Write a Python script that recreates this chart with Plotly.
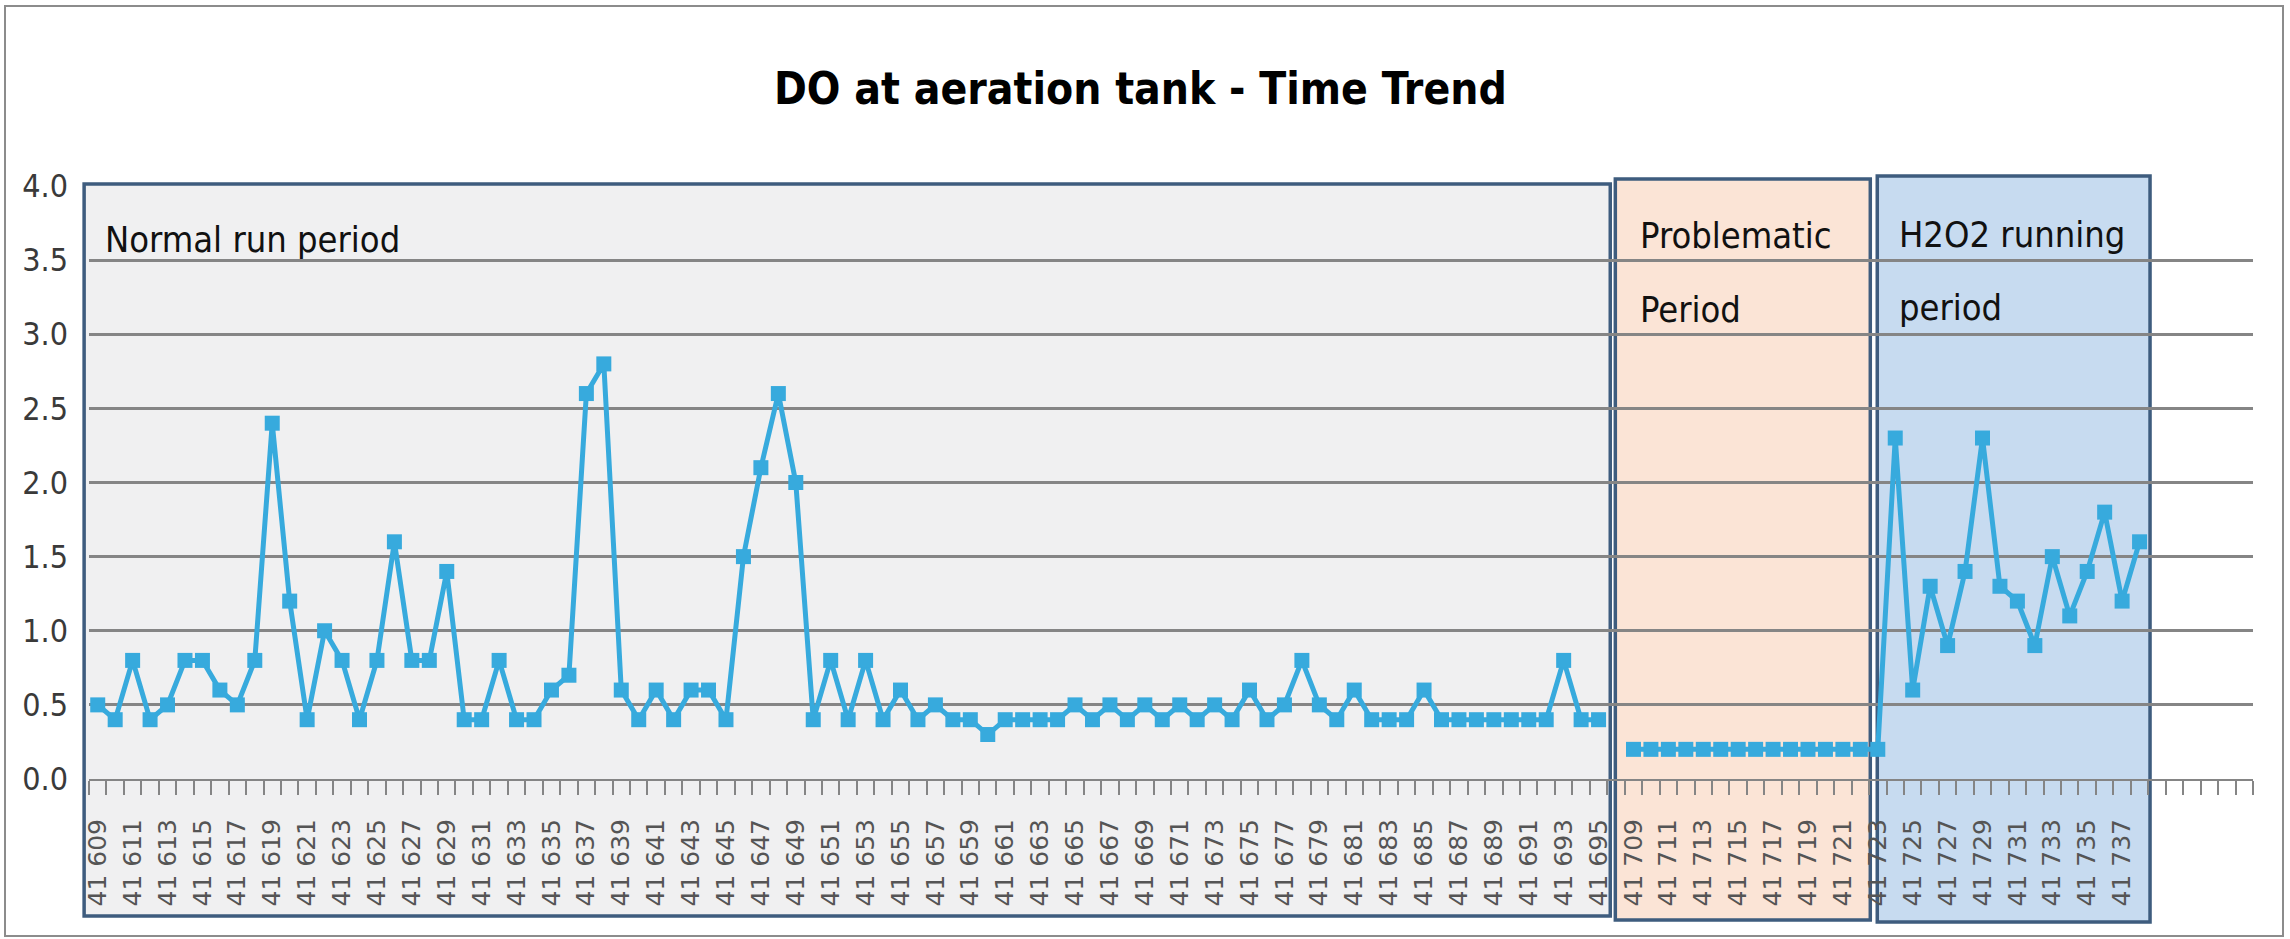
import plotly.graph_objects as go

# Day numbers (Excel serial dates) for each period
days_normal = list(range(41609, 41696))      # normal run period
days_problem = list(range(41709, 41724))     # problematic period
days_h2o2 = list(range(41724, 41739))        # H2O2 running period

# Dissolved oxygen readings (mg/L)
do_normal = [
    0.5, 0.4, 0.8, 0.4, 0.5, 0.8, 0.8, 0.6, 0.5, 0.8,
    2.4, 1.2, 0.4, 1.0, 0.8, 0.4, 0.8, 1.6, 0.8, 0.8,
    1.4, 0.4, 0.4, 0.8, 0.4, 0.4, 0.6, 0.7, 2.6, 2.8,
    0.6, 0.4, 0.6, 0.4, 0.6, 0.6, 0.4, 1.5, 2.1, 2.6,
    2.0, 0.4, 0.8, 0.4, 0.8, 0.4, 0.6, 0.4, 0.5, 0.4,
    0.4, 0.3, 0.4, 0.4, 0.4, 0.4, 0.5, 0.4, 0.5, 0.4,
    0.5, 0.4, 0.5, 0.4, 0.5, 0.4, 0.6, 0.4, 0.5, 0.8,
    0.5, 0.4, 0.6, 0.4, 0.4, 0.4, 0.6, 0.4, 0.4, 0.4,
    0.4, 0.4, 0.4, 0.4, 0.8, 0.4, 0.4,
]
do_problem = [0.2] * 15
do_h2o2 = [2.3, 0.6, 1.3, 0.9, 1.4, 2.3, 1.3, 1.2, 0.9, 1.5, 1.1, 1.4, 1.8, 1.2, 1.6]

# Category axis: one empty slot between the periods, empty slots at the end
categories = days_normal + [None] + days_problem + days_h2o2 + [None] * 6
values = do_normal + [None] + do_problem + do_h2o2

x_idx = list(range(len(values)))
X_MIN, X_MAX = -0.5, len(categories) - 0.5
Y_MIN, Y_MAX = 0.0, 4.0

tick_vals = [i for i, d in enumerate(categories) if d is not None and i % 2 == 0]
tick_text = [f"{categories[i] // 1000} {categories[i] % 1000:03d}" for i in tick_vals]

COND = "DejaVu Sans Condensed, Liberation Sans, sans-serif"
LINE_BLUE = "#37AADD"
EDGE = "#3E5C7E"
GRID = "#858585"

W, H = 2290, 939
L, R, T, B = 89, 37, 186, 160
plot_w = W - L - R
plot_h = H - T - B


def cx(c):
    return (c - X_MIN) / (X_MAX - X_MIN)


def vy(v):
    return (v - Y_MIN) / (Y_MAX - Y_MIN)


def px_x(p):
    return (p - L) / plot_w


def px_y(p):
    return (H - B - p) / plot_h


fig = go.Figure()
fig.add_trace(go.Scatter(
    x=x_idx, y=values, mode="lines+markers",
    line=dict(color=LINE_BLUE, width=5),
    marker=dict(symbol="square", size=15, color=LINE_BLUE),
    connectgaps=False, showlegend=False, hoverinfo="skip",
))

# Period boxes (category / value units)
periods = [
    dict(c0=-0.78, c1=86.67, top=4.013, bottom=-0.924, fill="#F0F0F1"),
    dict(c0=86.96, c1=101.57, top=4.047, bottom=-0.951, fill="#FBE4D6"),
    dict(c0=101.97, c1=117.6, top=4.067, bottom=-0.965, fill="#C7DBF0"),
]
shapes = []
for p in periods:
    shapes.append(dict(type="rect", xref="paper", yref="paper",
                       x0=cx(p["c0"]), x1=cx(p["c1"]), y0=vy(p["bottom"]), y1=vy(p["top"]),
                       fillcolor=p["fill"], line=dict(width=0), layer="below"))
for p in periods:
    shapes.append(dict(type="rect", xref="paper", yref="paper",
                       x0=cx(p["c0"]), x1=cx(p["c1"]), y0=vy(p["bottom"]), y1=vy(p["top"]),
                       fillcolor="rgba(0,0,0,0)", line=dict(color=EDGE, width=3.5), layer="between"))

# outer chart frame
shapes.append(dict(type="rect", xref="paper", yref="paper",
                   x0=px_x(5), x1=px_x(2283), y0=px_y(936), y1=px_y(6),
                   line=dict(color="#8C8C8C", width=2), fillcolor="rgba(0,0,0,0)", layer="below"))

TXT = dict(family=COND, size=36, color="#111111")
annotations = [
    dict(text="<b>DO at aeration tank - Time Trend</b>", x=px_x(1140), y=px_y(88),
         xanchor="center", yanchor="middle", font=dict(family=COND, size=44, color="#000000")),
    dict(text="Normal run period", x=px_x(103), y=px_y(240), xanchor="left", yanchor="middle", font=TXT),
    dict(text="Problematic", x=px_x(1638), y=px_y(236), xanchor="left", yanchor="middle", font=TXT),
    dict(text="Period", x=px_x(1638), y=px_y(309), xanchor="left", yanchor="middle", font=TXT),
    dict(text="H2O2 running", x=px_x(1897), y=px_y(234), xanchor="left", yanchor="middle", font=TXT),
    dict(text="period", x=px_x(1897), y=px_y(307), xanchor="left", yanchor="middle", font=TXT),
]
for a in annotations:
    a.update(xref="paper", yref="paper", showarrow=False)

fig.update_layout(
    width=W, height=H,
    margin=dict(l=L, r=R, t=T, b=B, autoexpand=False),
    paper_bgcolor="white", plot_bgcolor="white",
    shapes=shapes, annotations=annotations,
    xaxis=dict(
        range=[X_MIN, X_MAX], tickmode="array", tickvals=tick_vals, ticktext=tick_text,
        tickangle=-90, ticks="", ticklabelstandoff=28,
        tickfont=dict(family="DejaVu Sans", size=25, color="#555555"),
        showgrid=False, zeroline=False, showline=True, linecolor=GRID, linewidth=2,
        minor=dict(ticks="outside", tick0=-0.5, dtick=1, ticklen=14, tickcolor=GRID,
                   tickwidth=1.5, showgrid=False),
    ),
    yaxis=dict(
        range=[Y_MIN, Y_MAX], dtick=0.5, tickformat=".1f",
        showgrid=True, gridcolor=GRID, gridwidth=2.5, zeroline=False, showline=False,
        ticks="", ticklabelstandoff=20,
        tickfont=dict(family=COND, size=32, color="#3A3A3A"),
    ),
)

fig.write_html("out.html")
